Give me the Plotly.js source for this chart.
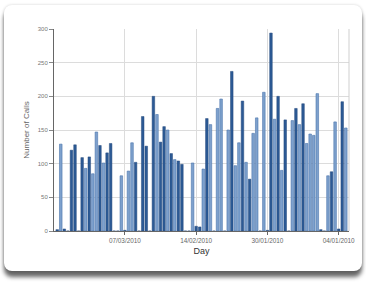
<!DOCTYPE html>
<html>
<head>
<meta charset="utf-8">
<script src="https://cdn.plot.ly/plotly-3.0.1.min.js"></script>
<style>
  html, body { margin: 0; padding: 0; width: 366px; height: 282px; background: #ffffff; overflow: hidden; }
  #card { position: absolute; left: 4px; top: 5px; width: 358px; height: 266px; background: #ffffff;
          border-radius: 8px; box-shadow: 0 6px 4px rgba(0,0,0,0.6), 0 0 3px rgba(0,0,0,0.18); }
  #chart { position: absolute; left: 0; top: 0; width: 366px; height: 282px; }
</style>
</head>
<body>
<div id="card"></div>
<div id="chart"></div>
<script>
// Day slots (0..81) — categories
const days = Array.from({length: 82}, (_, i) => i);

// Number of calls per day, split into the two shades shown in the chart
const darkCalls = [
  2, null, 3, 0, 120, 128, 0, 109, null, 110,
  null, null, 127, null, 116, 130, 0, 0, null, 1,
  null, null, 102, 0, 170, 126, 0, 200, null, 132,
  155, null, 115, null, 104, 99, 0, 0, null, 7,
  6, null, 167, null, 0, null, null, 0, null, 237,
  null, null, 193, null, 77, null, null, 0, null, 1,
  294, null, 200, null, 165, 0, null, 182, null, 189,
  null, null, null, null, 2, 0, null, 88, null, 3,
  192, null
];
const lightCalls = [
  null, 129, null, null, null, null, null, null, 93, null,
  85, 147, null, 101, null, null, null, null, 82, null,
  89, 131, null, null, null, null, null, null, 173, null,
  null, 150, null, 106, null, null, null, null, 101, null,
  null, 92, null, 158, null, 182, 196, null, 150, null,
  97, 131, null, 102, null, 145, 168, null, 206, null,
  null, 166, null, 90, null, null, 164, null, 158, null,
  130, 144, 142, 204, null, null, 82, null, 162, null,
  null, 153
];

// Tick labels on the Day axis
const tickDays = [19, 39, 59, 79];
const tickLabels = ["07/03/2010", "14/02/2010", "30/01/2010", "04/01/2010"];

const sans = '"Liberation Sans", Arial, sans-serif';

const traces = [
  { type: 'bar', x: days, y: darkCalls, width: 0.72, name: 'dark',
    marker: { color: '#2c5a95', line: { color: '#24497c', width: 0.5 } }, hoverinfo: 'x+y' },
  { type: 'bar', x: days, y: lightCalls, width: 0.72, name: 'light',
    marker: { color: '#7ea1cd', line: { color: '#4b76ad', width: 0.6 } }, hoverinfo: 'x+y' }
];

const layout = {
  width: 366, height: 282,
  paper_bgcolor: 'rgba(0,0,0,0)', plot_bgcolor: 'rgba(0,0,0,0)',
  margin: { l: 53.5, r: 16.5, t: 29, b: 51, pad: 0 },
  showlegend: false,
  barmode: 'overlay',
  xaxis: {
    range: [-0.9, 81.9],
    tickmode: 'array', tickvals: tickDays, ticktext: tickLabels,
    showgrid: true, gridcolor: '#dcdcdc', gridwidth: 1,
    showline: true, linecolor: '#666666', linewidth: 1,
    ticks: 'outside', ticklen: 3, tickcolor: '#666666',
    tickfont: { family: sans, size: 6.4, color: '#666666' },
    zeroline: false,
    title: { text: 'Day', font: { family: sans, size: 9, color: '#333333' }, standoff: 5 }
  },
  yaxis: {
    range: [0, 300],
    tickvals: [0, 50, 100, 150, 200, 250, 300],
    showgrid: true, gridcolor: '#dcdcdc', gridwidth: 1,
    showline: true, linecolor: '#666666', linewidth: 1,
    ticks: 'outside', ticklen: 4, tickcolor: '#888888',
    tickfont: { family: sans, size: 6, color: '#777777' },
    zeroline: false,
    title: { text: 'Number of Calls', font: { family: sans, size: 8, color: '#666666' }, standoff: 6 }
  },
  shapes: [
    { type: 'line', xref: 'paper', yref: 'paper', x0: 1, x1: 1, y0: 0, y1: 1,
      line: { color: '#cfcfcf', width: 1 } }
  ]
};

Plotly.newPlot('chart', traces, layout, { displayModeBar: false, staticPlot: true });
</script>
</body>
</html>
